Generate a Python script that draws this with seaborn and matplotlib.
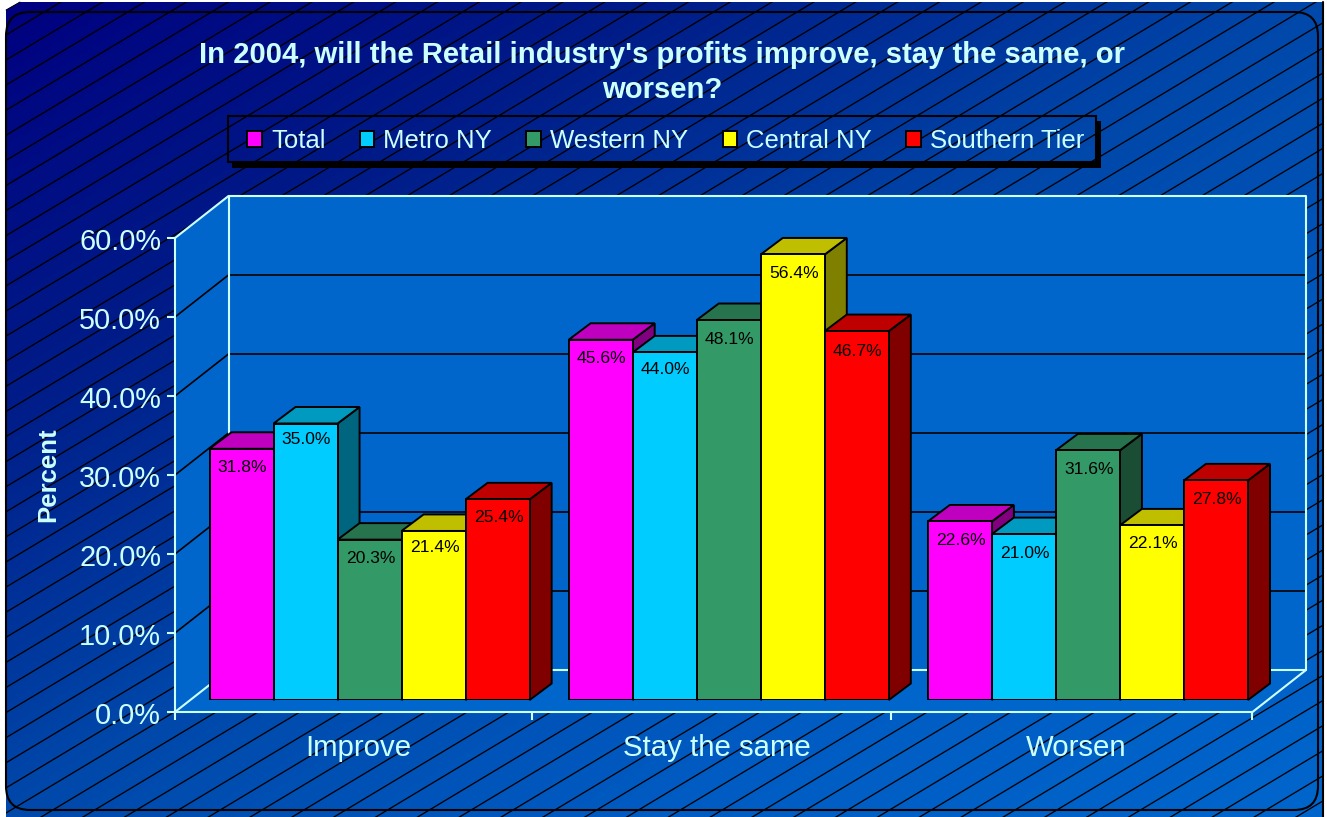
import matplotlib
matplotlib.use("Agg")
import matplotlib.pyplot as plt
import numpy as np
import pandas as pd
import seaborn as sns
from matplotlib.collections import LineCollection
from matplotlib.patches import FancyBboxPatch, Polygon, Rectangle
from matplotlib.ticker import FixedLocator, StrMethodFormatter
from matplotlib.transforms import ScaledTranslation

responses = ["Improve", "Stay the same", "Worsen"]
regions = ["Total", "Metro NY", "Western NY", "Central NY", "Southern Tier"]
total = [31.8, 45.6, 22.6]
metro_ny = [35.0, 44.0, 21.0]
western_ny = [20.3, 48.1, 31.6]
central_ny = [21.4, 56.4, 22.1]
southern_tier = [25.4, 46.7, 27.8]
colors = ["#FF00FF", "#00CCFF", "#339966", "#FFFF00", "#FF0000"]
title = "In 2004, will the Retail industry's profits improve, stay the same, or\nworsen?"

W, H = 1327, 817
LIGHT = "#CCFFFF"
WALL = "#0066CC"
# small per-label vertical adjustments, in pixels, in left-to-right bar order
label_nudge = [0, 3, 0, 2, 0.5, 0, 2, 0, 0, -1, 0, 0, 0, 0.5, 0]

df = pd.DataFrame({
    "Response": responses * 5,
    "Region": np.repeat(regions, 3),
    "Percent": total + metro_ny + western_ny + central_ny + southern_tier,
})

sns.set_style("white")
plt.rcParams["font.family"] = ["Liberation Sans", "DejaVu Sans"]
fig = plt.figure(figsize=(W / 100, H / 100), dpi=100, facecolor="white")


def axes_px(left, top, right, bottom, **kw):
    return fig.add_axes([left / W, 1 - bottom / H, (right - left) / W, (bottom - top) / H], **kw)


# ---- page background (pixel-space decoration)
bg = axes_px(0, 0, W, H, zorder=0)
bg.set_xlim(0, W)
bg.set_ylim(H, 0)
bg.set_axis_off()
gx, gy = np.meshgrid(np.linspace(0, 1, 300), np.linspace(0, 1, 200))
t = (gx + gy) / 2
stops = [0, 0.25, 0.5, 0.75, 1]
grad = np.dstack([np.zeros_like(t),
                  np.interp(t, stops, [0, 28, 72, 92, 102]) / 255,
                  np.interp(t, stops, [128, 136, 170, 195, 204]) / 255])
clip = Polygon([(6, 10), (20, 2), (1323, 2), (1323, 817), (6, 817)], transform=bg.transData,
               fc="none", ec="none")
bg.add_patch(clip)
im = bg.imshow(grad, extent=(0, W, H, 0), aspect="auto", zorder=0)
im.set_clip_path(clip)
bg.set_xlim(0, W)
bg.set_ylim(H, 0)
segs = []
for k in range(-2, 90):
    y0 = 60 + 25.1 * k
    segs.append([(6, y0), (1323, y0 - 0.6 * (1323 - 6))])
hatch = LineCollection(segs, colors="black", linewidths=0.95, zorder=1)
bg.add_collection(hatch)
hatch.set_clip_path(clip)
bg.add_patch(FancyBboxPatch((6 + 24, 12 + 24), 1312 - 48, 798 - 48, boxstyle="round,pad=24,rounding_size=24",
                            fc="none", ec="black", lw=1.5, zorder=2))
bg.plot([1323, 1323], [2, 817], color="black", lw=1.5, zorder=2)
bg.plot([6, 20], [10, 2], color="black", lw=0.6, zorder=2)
# legend frame and drop shadow
bg.add_patch(Polygon([(232, 162), (1096, 162), (1096, 121), (1101, 121), (1101, 168), (232, 168)],
                     fc="black", ec="none", zorder=2))
bg.add_patch(Rectangle((228, 116), 868, 46, fc="none", ec="black", lw=1.5, zorder=2))
bg.text(662, 72.5, title, ha="center", va="center", color=LIGHT, fontsize=21.05, fontweight="bold",
        linespacing=1.29, zorder=3)

# ---- 3-D box: walls, floor and gridlines
FL, FR, FT, FB = 175, 1252.5, 238, 712
DX, DY = 53.5, 42
bg.add_patch(Polygon([(FL, FB), (FL, FT), (FL + DX, FT - DY), (FR + DX, FT - DY), (FR + DX, FB - DY), (FR, FB)],
                     fc=WALL, ec="none", zorder=4))
for frac in range(1, 6):
    yy = FB - (FB - FT) * frac / 6
    bg.plot([FL, FL + DX, FR + DX], [yy, yy - DY, yy - DY], color="black", lw=1.2, zorder=5)
bg.plot([FL, FL + DX, FR + DX, FR + DX, FR], [FT, FT - DY, FT - DY, FB - DY, FB], color=LIGHT, lw=1.5, zorder=6)
bg.plot([FL, FL + DX, FR + DX], [FB, FB - DY, FB - DY], color=LIGHT, lw=1.5, zorder=6)
bg.plot([FL + DX, FL + DX], [FT - DY, FB - DY], color=LIGHT, lw=1.5, zorder=6)

# ---- front axis: scales, ticks and labels
front = axes_px(FL, FT, FR, FB, zorder=1)
front.patch.set_alpha(0)
front.set_xlim(-0.5, 2.5)
front.set_ylim(0, 60)
for side in ("top", "right"):
    front.spines[side].set_visible(False)
for side in ("left", "bottom"):
    front.spines[side].set_color(LIGHT)
    front.spines[side].set_linewidth(1.5)
front.set_yticks(np.arange(0, 61, 10))
front.yaxis.set_major_formatter(StrMethodFormatter("{x:.1f}%"))
front.set_xticks([-0.5, 0.494, 1.494, 2.5])
front.set_xticklabels([])
front.xaxis.set_minor_locator(FixedLocator([0, 1, 2]))
front.set_xticklabels(responses, minor=True)
front.tick_params(axis="y", which="major", left=True, length=6, width=1.5, color=LIGHT, labelcolor=LIGHT,
                  labelsize=20.8, pad=4)
front.tick_params(axis="x", which="major", bottom=True, length=6, width=1.5, color=LIGHT)
front.tick_params(axis="x", which="minor", bottom=False, length=0, labelcolor=LIGHT, labelsize=21.2, pad=15.5)
for lab in front.get_xticklabels(minor=True):
    lab.set_transform(lab.get_transform() + ScaledTranslation(3.5 / 100, 0, fig.dpi_scale_trans))
for lab in front.get_yticklabels():
    lab.set_transform(lab.get_transform() + ScaledTranslation(0, -0.7 / 100, fig.dpi_scale_trans))
front.set_ylabel("Percent", color=LIGHT, fontsize=18.5, fontweight="bold")
front.yaxis.set_label_coords((60 - FL) / (FR - FL), 0.5)

# ---- bars, one depth step behind the front axis
bars = axes_px(FL + 15, FT - 12, FR + 15, FB - 12, zorder=2)
sns.barplot(df, x="Response", y="Percent", hue="Region", hue_order=regions, order=responses,
            palette=colors, saturation=1, width=320 / 359, gap=0, dodge=True,
            edgecolor="black", linewidth=1.4, errorbar=None, ax=bars)
bars.set_xlim(-0.5, 2.5)
bars.set_ylim(0, 60)
bars.set_axis_off()

depth_x = 22 / ((FR - FL) / 3)
depth_y = 16.5 / ((FB - FT) / 60)
bar_patches = sorted([p for c in bars.containers for p in c], key=lambda p: p.get_x())
for i, p in enumerate(bar_patches):
    x0, x1, h = p.get_x(), p.get_x() + p.get_width(), p.get_height()
    r, g, b = matplotlib.colors.to_rgb(p.get_facecolor())
    z = 3 + i
    bars.add_patch(Polygon([(x1, 0), (x1 + depth_x, depth_y), (x1 + depth_x, h + depth_y), (x1, h)],
                           fc=(r * 0.5, g * 0.5, b * 0.5), ec="black", lw=1.4, zorder=z, clip_on=False))
    bars.add_patch(Polygon([(x0, h), (x0 + depth_x, h + depth_y), (x1 + depth_x, h + depth_y), (x1, h)],
                           fc=(r * 0.75, g * 0.75, b * 0.75), ec="black", lw=1.4, zorder=z + 0.1, clip_on=False))
    p.set_zorder(z + 0.2)
    bars.annotate(f"{h:.1f}%", (x0 + p.get_width() / 2, h), xytext=(1, -19 + label_nudge[i]),
                  textcoords="offset pixels", ha="center", va="center", fontsize=12.6, color="black",
                  zorder=100, annotation_clip=False)

sns.move_legend(bars, "center left", bbox_to_anchor=(247 / W, 1 - 141 / H), bbox_transform=fig.transFigure,
                ncol=5, title=None, frameon=False, borderaxespad=0, fontsize=18.5, labelcolor=LIGHT,
                handlelength=0.58, handleheight=0.58, handletextpad=0.35, columnspacing=1.33, borderpad=0)

fig.savefig("out.png", dpi=100, facecolor="white")
